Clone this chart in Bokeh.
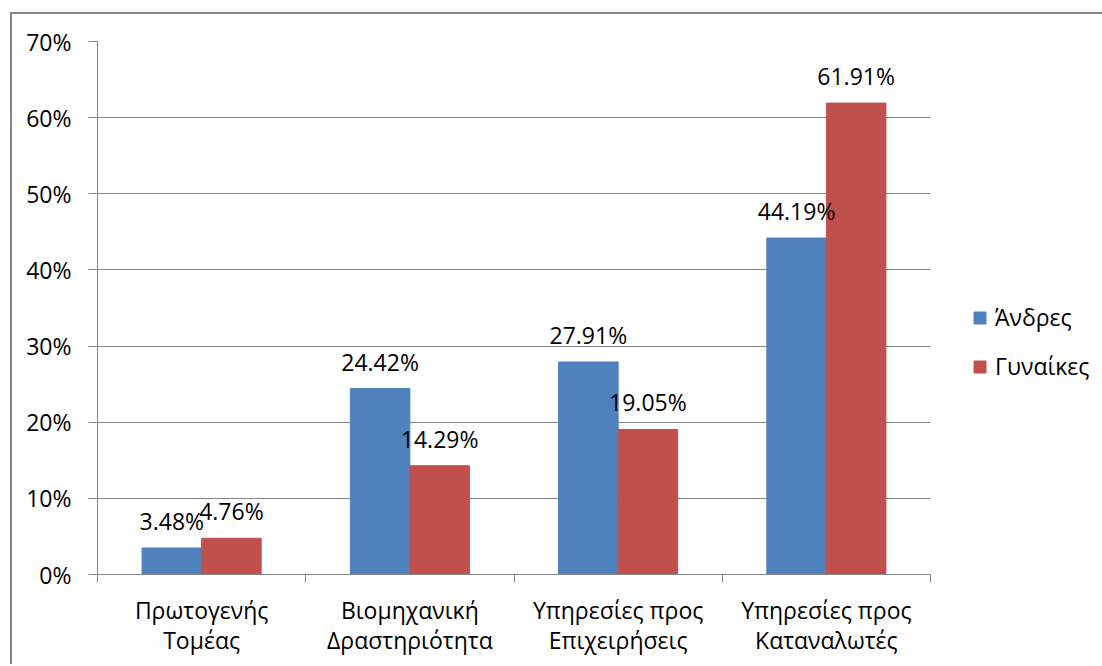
from bokeh.plotting import figure
from bokeh.models import (ColumnDataSource, FixedTicker, Range1d, LabelSet, Legend,
                          LegendItem, PrintfTickFormatter)
from bokeh.transform import dodge
from bokeh.core.properties import value
from bokeh.embed import file_html
from bokeh.resources import INLINE

categories = ["Πρωτογενής\nΤομέας", "Βιομηχανική\nΔραστηριότητα",
              "Υπηρεσίες προς\nΕπιχειρήσεις", "Υπηρεσίες προς\nΚαταναλωτές"]
men = [3.48, 24.42, 27.91, 44.19]
women = [4.76, 14.29, 19.05, 61.91]
series_names = ["Άνδρες", "Γυναίκες"]
y_ticks = [0, 10, 20, 30, 40, 50, 60, 70]

FONT = "Open Sans"
GRAY = "#868686"
BLUE = "#4F81BD"
RED = "#C0504D"

centers = [i + 0.5 for i in range(len(categories))]
bounds = [float(i) for i in range(len(categories) + 1)]

src = ColumnDataSource(dict(
    x=centers, men=men, women=women,
    men_lbl=[f"{v:.2f}%" for v in men],
    women_lbl=[f"{v:.2f}%" for v in women],
))

p = figure(frame_width=833, frame_height=533, x_range=Range1d(0, len(categories)),
           y_range=Range1d(y_ticks[0], y_ticks[-1]),
           output_backend="svg", toolbar_location=None,
           min_border_left=85, min_border_top=27, min_border_bottom=90, min_border_right=170)
p.styles = {"border-left": f"2px solid {GRAY}", "border-top": f"2px solid {GRAY}",
            "margin-left": "10px", "margin-top": "12px"}
p.outline_line_color = None
p.background_fill_color = "white"
p.border_fill_color = "white"

bw = 0.286
r1 = p.vbar(x=dodge("x", -bw / 2, range=p.x_range), top="men", width=bw, source=src,
            fill_color=BLUE, line_color=BLUE)
r2 = p.vbar(x=dodge("x", bw / 2, range=p.x_range), top="women", width=bw, source=src,
            fill_color=RED, line_color=RED)

for col, off in (("men", -bw / 2), ("women", bw / 2)):
    p.add_layout(LabelSet(x=dodge("x", off, range=p.x_range), y=col, text=col + "_lbl",
                          source=src, y_offset=18, text_align="center",
                          text_baseline="alphabetic", text_font=value(FONT),
                          text_font_size="23px", text_color="black"))

# axes
xa = p.xaxis[0]
xa.ticker = FixedTicker(ticks=centers, minor_ticks=bounds)
xa.major_label_overrides = {c: lab for c, lab in zip(centers, categories)}
xa.major_tick_line_color = None
xa.major_tick_out = 0
xa.major_tick_in = 0
xa.minor_tick_out = 8
xa.minor_tick_in = 0
xa.minor_tick_line_color = GRAY
xa.axis_line_color = GRAY
xa.major_label_text_font = FONT
xa.major_label_text_font_size = "23px"
xa.major_label_text_color = "black"
xa.major_label_text_line_height = 0.95
xa.major_label_standoff = 11

ya = p.yaxis[0]
ya.ticker = FixedTicker(ticks=y_ticks)
ya.formatter = PrintfTickFormatter(format="%d%%")
ya.major_tick_out = 9
ya.major_tick_in = 0
ya.minor_tick_line_color = None
ya.major_tick_line_color = GRAY
ya.axis_line_color = GRAY
ya.major_label_text_font = FONT
ya.major_label_text_font_size = "23px"
ya.major_label_text_color = "black"
ya.major_label_standoff = 17

p.xgrid.visible = False
p.ygrid.grid_line_color = GRAY
p.ygrid.grid_line_width = 1

legend = Legend(items=[LegendItem(label=series_names[0], renderers=[r1]),
                       LegendItem(label=series_names[1], renderers=[r2])],
                location=(42, 192), orientation="vertical",
                glyph_width=15, glyph_height=15, label_standoff=8,
                padding=0, margin=0, spacing=17,
                label_text_font=FONT, label_text_font_size="23px",
                label_text_color="black",
                border_line_color=None, background_fill_alpha=0)
p.add_layout(legend, "right")

open("out.html", "w").write(file_html(p, INLINE))
